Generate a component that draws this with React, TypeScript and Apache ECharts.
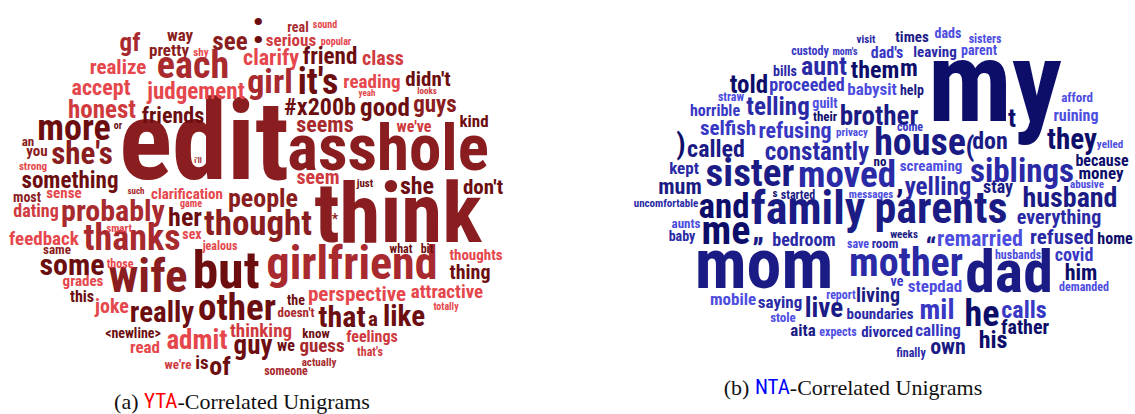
import React, { useEffect, useRef } from "react";
import * as echarts from "echarts";

// [word, x, y, weight(font px), tone]
type Word = [string, number, number, number, number];

const ytaWords: Word[] = [
  ["edit", 204, 141, 111, 3],
  ["asshole", 388, 148, 65, 3],
  ["think", 398, 213, 83, 3],
  ["girlfriend", 352, 263, 46, 2],
  ["but", 226, 270, 52, 4],
  [":", 258, 27, 46, 4],
  ["gf", 130, 42, 25, 2],
  ["way", 180, 35, 17, 3],
  ["pretty", 169, 50, 17, 3],
  ["shy", 201, 52, 11, 0],
  ["see", 230, 41, 25, 3],
  ["realize", 118, 67, 21, 0],
  ["each", 193, 65, 38, 2],
  ["accept", 101, 87, 22, 0],
  ["judgement", 196, 91, 23, 0],
  ["honest", 102, 109, 25, 1],
  ["friends", 173, 115, 22, 4],
  ["more", 74, 128, 36, 4],
  ["or", 118, 125, 10, 4],
  ["an", 28, 141, 13, 3],
  ["you", 37, 151, 15, 3],
  ["she's", 82, 153, 31, 3],
  ["strong", 33, 166, 11, 0],
  ["something", 70, 180, 23, 4],
  ["i'll", 198, 160, 8, 2],
  ["real", 298, 27, 14, 2],
  ["sound", 325, 24, 10, 0],
  ["serious", 291, 40, 17, 1],
  ["popular", 336, 41, 10, 0],
  ["clarify", 271, 57, 22, 0],
  ["friend", 330, 56, 23, 4],
  ["class", 383, 58, 20, 1],
  ["girl", 270, 81, 34, 2],
  ["it's", 318, 82, 36, 4],
  ["reading", 372, 81, 19, 0],
  ["didn't", 428, 79, 21, 4],
  ["yeah", 367, 93, 9, 0],
  ["looks", 427, 91, 9, 1],
  ["#x200b", 320, 107, 24, 4],
  ["good", 385, 107, 25, 4],
  ["guys", 435, 104, 23, 3],
  ["seems", 325, 124, 22, 2],
  ["we've", 414, 126, 16, 1],
  ["kind", 474, 121, 17, 4],
  ["seem", 318, 177, 20, 1],
  ["just", 365, 183, 11, 4],
  ["she", 417, 186, 24, 4],
  ["don't", 483, 187, 21, 4],
  ["*", 335, 219, 14, 3],
  ["people", 263, 198, 26, 3],
  ["thought", 258, 223, 35, 3],
  ["what", 401, 249, 12, 4],
  ["bit", 427, 249, 12, 4],
  ["thoughts", 476, 255, 15, 0],
  ["thing", 470, 272, 20, 4],
  ["perspective", 357, 294, 21, 0],
  ["attractive", 447, 291, 19, 0],
  ["totally", 446, 306, 10, 0],
  ["the", 296, 300, 14, 4],
  ["doesn't", 296, 312, 13, 2],
  ["that", 342, 316, 30, 4],
  ["a", 373, 319, 21, 4],
  ["like", 404, 316, 29, 4],
  ["thinking", 261, 330, 19, 1],
  ["know", 316, 333, 13, 4],
  ["feelings", 372, 336, 16, 1],
  ["guy", 253, 345, 27, 4],
  ["we", 286, 345, 16, 4],
  ["guess", 322, 345, 19, 2],
  ["that's", 370, 352, 12, 1],
  ["actually", 319, 362, 11, 2],
  ["someone", 286, 371, 12, 2],
  ["of", 220, 366, 26, 4],
  ["is", 202, 362, 19, 4],
  ["we're", 178, 364, 13, 1],
  ["read", 145, 347, 17, 0],
  ["admit", 197, 340, 27, 0],
  ["<newline>", 133, 333, 14, 4],
  ["really", 162, 312, 29, 4],
  ["other", 237, 307, 37, 4],
  ["joke", 112, 306, 20, 0],
  ["this", 82, 296, 16, 4],
  ["grades", 83, 281, 15, 0],
  ["wife", 148, 275, 47, 3],
  ["some", 72, 264, 30, 4],
  ["those", 120, 264, 12, 0],
  ["same", 57, 249, 13, 3],
  ["feedback", 44, 238, 19, 0],
  ["thanks", 132, 238, 36, 2],
  ["smart", 119, 228, 11, 0],
  ["sex", 192, 234, 14, 0],
  ["jealous", 220, 246, 12, 0],
  ["her", 185, 217, 26, 4],
  ["game", 191, 203, 10, 0],
  ["clarification", 187, 194, 15, 0],
  ["such", 136, 191, 9, 2],
  ["sense", 64, 193, 15, 0],
  ["most", 27, 197, 14, 3],
  ["dating", 36, 210, 18, 1],
  ["probably", 113, 210, 30, 2],
];

const ntaWords: Word[] = [
  ["my", 995, 82, 113, 4],
  ["mom", 764, 264, 70, 3],
  ["dad", 1009, 271, 60, 3],
  ["family", 808, 208, 46, 3],
  ["parents", 941, 208, 44, 3],
  ["visit", 866, 39, 11, 2],
  ["custody", 810, 51, 12, 1],
  ["mom's", 845, 51, 10, 1],
  ["dad's", 887, 52, 16, 1],
  ["times", 912, 37, 15, 3],
  ["dads", 948, 33, 14, 0],
  ["sisters", 985, 39, 12, 0],
  ["leaving", 935, 52, 15, 2],
  ["parent", 979, 50, 14, 0],
  ["bills", 785, 71, 14, 2],
  ["aunt", 824, 66, 26, 2],
  ["them", 875, 70, 24, 4],
  ["m", 909, 68, 24, 4],
  ["told", 749, 84, 25, 4],
  ["proceeded", 807, 84, 18, 1],
  ["babysit", 872, 89, 17, 0],
  ["help", 912, 90, 14, 3],
  ["straw", 731, 97, 12, 0],
  ["guilt", 825, 103, 14, 0],
  ["horrible", 715, 110, 16, 1],
  ["telling", 778, 106, 25, 2],
  ["their", 825, 116, 13, 4],
  ["brother", 879, 116, 27, 3],
  ["selfish", 728, 128, 21, 1],
  ["refusing", 795, 130, 22, 1],
  ["privacy", 852, 132, 11, 0],
  ["come", 910, 127, 12, 1],
  ["t", 1012, 118, 26, 4],
  ["afford", 1077, 97, 13, 0],
  ["ruining", 1076, 115, 16, 0],
  ["they", 1072, 139, 29, 4],
  ["yelled", 1110, 144, 11, 0],
  ["house", 920, 142, 38, 3],
  ["(", 970, 146, 28, 3],
  ["don", 990, 141, 24, 3],
  [")", 681, 144, 29, 4],
  ["called", 716, 149, 24, 3],
  ["constantly", 817, 151, 25, 2],
  ["no", 880, 161, 13, 4],
  ["kept", 684, 168, 17, 2],
  ["sister", 750, 173, 39, 3],
  ["moved", 847, 174, 37, 2],
  ["mum", 680, 186, 22, 3],
  ["screaming", 931, 166, 15, 0],
  ["siblings", 1022, 170, 33, 2],
  ["because", 1102, 160, 16, 4],
  ["money", 1101, 173, 17, 4],
  ["abusive", 1087, 184, 11, 0],
  ["yelling", 938, 186, 25, 2],
  [",", 900, 182, 30, 4],
  ["stay", 998, 186, 18, 3],
  ["husband", 1070, 197, 28, 3],
  ["everything", 1059, 217, 20, 2],
  ["messages", 871, 194, 11, 0],
  ["s", 775, 193, 11, 4],
  ["started", 798, 195, 12, 3],
  ["and", 724, 206, 35, 4],
  ["uncomfortable", 666, 203, 11, 2],
  ["aunts", 686, 223, 13, 0],
  ["baby", 682, 236, 14, 2],
  ["me", 726, 230, 40, 4],
  ["\u201e", 758, 230, 30, 3],
  ["bedroom", 804, 239, 18, 2],
  ["save", 858, 244, 12, 0],
  ["room", 885, 243, 13, 2],
  ["weeks", 904, 234, 11, 3],
  ["\u201c", 931, 247, 28, 3],
  ["remarried", 980, 238, 22, 0],
  ["refused", 1062, 237, 21, 2],
  ["home", 1115, 238, 16, 4],
  ["mother", 906, 262, 40, 2],
  ["husbands", 1018, 255, 12, 0],
  ["covid", 1074, 254, 18, 1],
  ["him", 1081, 272, 22, 4],
  ["demanded", 1084, 287, 12, 0],
  ["ve", 897, 281, 14, 1],
  ["stepdad", 935, 286, 17, 0],
  ["living", 878, 295, 20, 3],
  ["report", 841, 295, 12, 0],
  ["mobile", 733, 299, 17, 0],
  ["saying", 780, 302, 17, 2],
  ["live", 824, 308, 27, 3],
  ["stole", 783, 317, 13, 0],
  ["boundaries", 880, 314, 15, 2],
  ["mil", 937, 309, 28, 1],
  ["he", 982, 314, 36, 4],
  ["calls", 1024, 310, 24, 1],
  ["father", 1025, 327, 20, 4],
  ["his", 993, 340, 24, 4],
  ["aita", 803, 330, 17, 3],
  ["expects", 838, 332, 12, 0],
  ["divorced", 887, 332, 15, 2],
  ["calling", 938, 330, 17, 1],
  ["own", 948, 346, 22, 3],
  ["finally", 911, 353, 12, 2],
];

const redTones = ["#e5474c", "#cf3a3e", "#a82a2e", "#8a1d20", "#6c0e10"];
const blueTones = ["#4d4de0", "#3838c4", "#2a2aa6", "#1b1b85", "#0d0d6a"];

const captionA = ["(a) ", "YTA", "-Correlated Unigrams"];
const captionB = ["(b) ", "NTA", "-Correlated Unigrams"];

const WORD_FONT =
  "'Liberation Sans Narrow', 'Roboto Condensed', 'DejaVu Sans Condensed', 'Arial Narrow', sans-serif";

export default function App() {
  const ref = useRef<HTMLDivElement>(null);

  useEffect(() => {
    document.body.style.margin = "0";
    const chart = echarts.init(ref.current!, null, { renderer: "svg" });

    const toData = (words: Word[], tones: string[]) =>
      words.map(([t, x, y, s, k]) => ({
        name: t,
        value: [x, y],
        label: { fontSize: s, lineHeight: Math.round(s * 0.75), color: tones[k] },
      }));

    const cloudSeries = (words: Word[], tones: string[]) => ({
      type: "scatter",
      symbolSize: 0,
      silent: true,
      itemStyle: { opacity: 1 },
      data: toData(words, tones),
      label: {
        show: true,
        position: "inside",
        formatter: "{b}",
        fontFamily: WORD_FONT,
        fontWeight: "bold",
        align: "center",
        verticalAlign: "middle",
        opacity: 1,
      },
      emphasis: { disabled: true },
    });

    const caption = (parts: string[], color: string, x: number, y: number) => ({
      type: "text",
      x,
      y,
      silent: true,
      style: {
        text: `{p|${parts[0]}}{r|${parts[1]}}{p|${parts[2]}}`,
        align: "center",
        verticalAlign: "middle",
        rich: {
          p: { fontFamily: "'Liberation Serif', 'Times New Roman', serif", fontSize: 22, fill: "#111" },
          r: { fontFamily: WORD_FONT, fontSize: 21, fill: color },
        },
      },
    });

    chart.setOption({
      animation: false,
      grid: { left: 0, right: 0, top: 0, bottom: 0 },
      xAxis: { type: "value", min: 0, max: 1135, show: false },
      yAxis: { type: "value", min: 0, max: 414, inverse: true, show: false },
      series: [cloudSeries(ytaWords, redTones), cloudSeries(ntaWords, blueTones)],
      graphic: [
        caption(captionA, "#ff0000", 242, 401),
        caption(captionB, "#0000ff", 853, 387),
      ],
    });

    return () => chart.dispose();
  }, []);

  return <div ref={ref} style={{ width: 1135, height: 414 }} />;
}
